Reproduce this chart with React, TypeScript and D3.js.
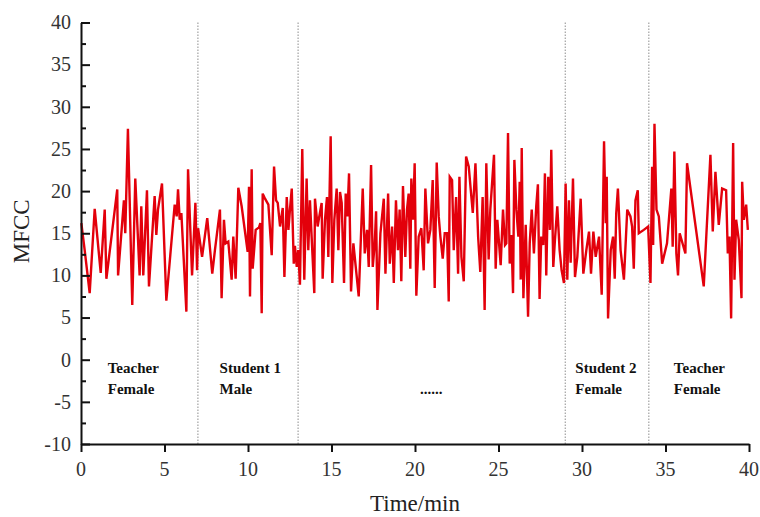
import React, { useEffect, useRef } from 'react';
import * as d3 from 'd3';

// [minute, MFCC] pairs, one array per speaker segment
const teacherA: [number, number][] = [
  [0.02, 16.2], [0.12, 14.6], [0.22, 13.0], [0.52, 7.9], [0.82, 17.9], [1.18, 10.3], [1.42, 17.8],
  [1.52, 9.6], [2.17, 20.2], [2.22, 10.0], [2.57, 18.9], [2.65, 15.0], [2.81, 27.4], [3.07, 6.5],
  [3.25, 21.5], [3.51, 10.0], [3.61, 18.2], [3.73, 10.0], [3.95, 20.1], [4.07, 8.7], [4.41, 19.4],
  [4.51, 14.8], [4.61, 17.8], [4.85, 20.9], [5.11, 7.0], [5.61, 18.4], [5.73, 17.0], [5.81, 20.2],
  [5.91, 16.6], [6.01, 17.4], [6.31, 5.7], [6.41, 22.6], [6.65, 10.0], [6.85, 18.6], [6.95, 10.6]
];
const student1: [number, number][] = [
  [7.01, 15.6], [7.25, 12.2], [7.56, 16.8], [7.86, 10.2], [8.02, 13.0], [8.32, 17.8], [8.42, 7.3],
  [8.56, 16.6], [8.66, 13.8], [8.82, 14.0], [9.02, 9.5], [9.12, 14.6], [9.26, 9.6], [9.42, 20.4],
  [9.62, 18.2], [9.98, 12.8], [10.06, 20.5], [10.12, 7.5], [10.22, 22.6], [10.28, 10.8], [10.46, 15.4],
  [10.66, 15.7], [10.74, 16.2], [10.82, 5.5], [10.88, 19.7], [11.02, 19.1], [11.22, 18.4], [11.42, 12.4],
  [11.56, 22.9], [11.68, 18.9], [11.78, 18.6], [11.92, 15.8], [12.08, 18.0], [12.18, 9.8], [12.32, 19.3],
  [12.42, 15.4], [12.52, 18.0], [12.62, 20.3], [12.74, 11.4], [12.81, 13.5], [12.92, 11.0]
];
const others: [number, number][] = [
  [13.01, 13.0], [13.11, 8.9], [13.25, 25.0], [13.37, 9.5], [13.51, 21.5], [13.61, 13.0], [13.71, 18.9],
  [13.81, 14.6], [13.97, 7.9], [14.01, 19.1], [14.17, 15.8], [14.27, 17.0], [14.41, 18.6], [14.47, 9.6],
  [14.61, 16.6], [14.73, 19.3], [14.81, 12.2], [14.95, 26.5], [15.05, 9.1], [15.17, 16.6], [15.31, 20.3],
  [15.41, 13.0], [15.51, 19.9], [15.61, 18.6], [15.75, 9.1], [15.85, 19.7], [15.95, 17.0], [16.05, 22.1],
  [16.17, 8.1], [16.31, 13.8], [16.63, 7.5], [16.87, 20.3], [16.99, 12.6], [17.13, 15.4], [17.23, 11.0],
  [17.37, 23.1], [17.47, 11.0], [17.59, 13.8], [17.67, 17.6], [17.75, 5.9], [17.93, 15.0], [18.13, 19.1],
  [18.23, 10.2], [18.39, 19.7], [18.49, 11.4], [18.63, 15.8], [18.73, 9.1], [18.86, 18.9], [18.98, 13.0],
  [19.08, 17.8], [19.18, 9.3], [19.28, 20.6], [19.42, 12.2], [19.52, 17.8], [19.62, 19.7], [19.72, 10.8],
  [19.78, 21.5], [19.88, 16.6], [19.98, 23.3], [20.08, 7.6], [20.22, 14.6], [20.38, 15.6], [20.52, 10.6],
  [20.62, 20.3], [20.78, 13.8], [20.92, 15.4], [21.06, 21.3], [21.18, 8.5], [21.3, 23.4], [21.42, 17.0],
  [21.52, 14.6], [21.66, 12.0], [21.78, 15.0], [21.92, 15.0], [22.02, 6.9], [22.08, 21.7], [22.22, 21.3],
  [22.32, 13.0], [22.46, 19.3], [22.58, 10.2], [22.66, 21.7], [22.78, 12.2], [22.92, 9.3], [23.06, 24.1],
  [23.22, 22.9], [23.34, 20.1], [23.46, 17.4], [23.62, 23.3], [23.78, 14.6], [23.91, 10.4], [24.05, 19.3],
  [24.17, 5.9], [24.27, 23.3], [24.41, 11.9], [24.51, 17.8], [24.73, 24.3], [24.83, 10.8], [24.93, 16.6],
  [25.13, 11.2], [25.27, 17.8], [25.39, 13.6], [25.47, 13.8], [25.57, 26.9], [25.67, 11.4], [25.77, 14.8],
  [25.87, 7.9], [25.95, 23.7], [26.07, 17.8], [26.19, 14.6], [26.27, 21.1], [26.33, 9.5], [26.39, 25.1],
  [26.49, 7.3], [26.63, 16.0], [26.77, 5.1], [26.87, 13.8], [26.99, 17.8], [27.12, 12.6], [27.26, 18.2],
  [27.36, 20.8], [27.46, 7.2], [27.56, 14.6], [27.68, 13.6], [27.78, 22.1], [27.86, 10.0], [27.98, 21.7],
  [28.08, 15.4], [28.16, 24.9], [28.28, 11.0], [28.38, 14.2], [28.52, 18.2], [28.66, 13.0], [28.78, 10.6],
  [28.92, 9.1]
];
const student2: [number, number][] = [
  [29.02, 20.9], [29.12, 9.5], [29.22, 18.9], [29.32, 11.5], [29.46, 21.5], [29.58, 9.8], [29.72, 12.2],
  [29.92, 19.1], [30.08, 10.2], [30.26, 13.0], [30.42, 15.2], [30.54, 10.2], [30.68, 15.2], [30.82, 12.2],
  [31.02, 14.6], [31.18, 7.7], [31.32, 25.9], [31.42, 16.2], [31.48, 21.7], [31.56, 4.9], [31.72, 13.0],
  [31.86, 14.6], [31.96, 9.6], [32.05, 17.4], [32.15, 20.3], [32.31, 13.0], [32.51, 9.5], [32.71, 17.8],
  [32.9, 17.0], [33.0, 15.8], [33.1, 10.8], [33.2, 18.9], [33.34, 20.1], [33.4, 15.0], [33.7, 15.4],
  [33.96, 15.8]
];
const teacherB: [number, number][] = [
  [34.1, 9.1], [34.2, 22.9], [34.26, 13.6], [34.34, 28.0], [34.46, 17.8], [34.6, 17.0], [34.8, 11.4],
  [35.09, 13.8], [35.35, 20.3], [35.43, 13.4], [35.53, 24.7], [35.65, 12.6], [35.75, 10.0], [35.85, 15.0],
  [36.19, 12.6], [36.29, 23.3], [37.29, 8.7], [37.69, 24.3], [37.83, 15.2], [37.99, 22.3], [38.19, 16.0],
  [38.39, 20.3], [38.63, 20.1], [38.73, 12.6], [38.83, 14.6], [38.93, 4.9], [39.05, 25.7], [39.13, 9.5],
  [39.23, 16.6], [39.39, 14.2], [39.55, 7.3], [39.59, 21.1], [39.69, 16.6], [39.83, 18.4], [39.93, 15.4]
];

const dividers = [7, 13, 29, 34];
const speakerLabels = [
  { at: 1.6, lines: ['Teacher', 'Female'] },
  { at: 8.3, lines: ['Student 1', 'Male'] },
  { at: 20.3, lines: ['', '......'] },
  { at: 29.6, lines: ['Student 2', 'Female'] },
  { at: 35.5, lines: ['Teacher', 'Female'] }
];
const xTicks = [0, 5, 10, 15, 20, 25, 30, 35, 40];
const yTicks = [-10, -5, 0, 5, 10, 15, 20, 25, 30, 35, 40];

const W = 760;
const H = 517;
const serif = 'Liberation Serif';

export default function App() {
  const ref = useRef<SVGSVGElement>(null);

  useEffect(() => {
    const svg = d3.select(ref.current);
    svg.selectAll('*').remove();

    const x = d3.scaleLinear().domain([0, 40]).range([81, 749]);
    const y = d3.scaleLinear().domain([-10, 40]).range([444, 22.5]);

    // speaker change markers
    svg.append('g')
      .selectAll('line')
      .data(dividers)
      .enter()
      .append('line')
      .attr('x1', d => x(d)).attr('x2', d => x(d))
      .attr('y1', y(40)).attr('y2', y(-10))
      .attr('stroke', '#a8a8a8')
      .attr('stroke-width', 1.3)
      .attr('stroke-dasharray', '1.5,1.5');

    const data = [...teacherA, ...student1, ...others, ...student2, ...teacherB];
    const line = d3.line<[number, number]>().x(d => x(d[0])).y(d => y(d[1]));
    svg.append('path')
      .attr('d', line(data))
      .attr('fill', 'none')
      .attr('stroke', '#e3000b')
      .attr('stroke-width', 2.4)
      .attr('stroke-linejoin', 'miter');

    // axes: ticks from d3, labels written separately so the serif face sticks
    svg.append('g')
      .attr('transform', `translate(${x(0)},0)`)
      .call(d3.axisLeft(y).tickValues(yTicks).tickFormat(() => '').tickSizeInner(-9).tickSizeOuter(0));
    svg.append('g')
      .attr('transform', `translate(${x(0)},0)`)
      .call(d3.axisLeft(y).tickValues(yTicks.slice(1).map(v => v - 2.5)).tickSize(-5).tickFormat(() => ''))
      .call(g => g.select('.domain').remove());
    svg.append('g')
      .attr('transform', `translate(0,${y(-10)})`)
      .call(d3.axisBottom(x).tickValues(xTicks).tickFormat(() => '').tickSizeInner(8).tickSizeOuter(0));

    svg.selectAll('.domain').attr('stroke', '#111').attr('stroke-width', 2);
    svg.selectAll('.tick line').attr('stroke', '#111').attr('stroke-width', 2);

    svg.append('g')
      .selectAll('text')
      .data(yTicks)
      .enter()
      .append('text')
      .attr('x', x(0) - 10)
      .attr('y', d => y(d))
      .attr('dy', '0.34em')
      .attr('text-anchor', 'end')
      .attr('font-family', serif)
      .attr('font-size', 20)
      .attr('fill', '#333')
      .text(d => String(d));

    svg.append('g')
      .selectAll('text')
      .data(xTicks)
      .enter()
      .append('text')
      .attr('x', d => x(d))
      .attr('y', 476)
      .attr('text-anchor', 'middle')
      .attr('font-family', serif)
      .attr('font-size', 20)
      .attr('fill', '#333')
      .text(d => String(d));

    // speaker annotations
    const ann = svg.append('g')
      .attr('font-family', serif)
      .attr('font-weight', 'bold')
      .attr('font-size', 15)
      .attr('fill', '#111');
    speakerLabels.forEach(s => {
      s.lines.forEach((txt, i) => {
        ann.append('text')
          .attr('x', x(s.at))
          .attr('y', y(-1.6) + i * 21)
          .text(txt);
      });
    });

    svg.append('text')
      .attr('transform', `translate(29,${(y(40) + y(-10)) / 2 - 2}) rotate(-90)`)
      .attr('text-anchor', 'middle')
      .attr('font-family', serif)
      .attr('font-size', 23)
      .attr('fill', '#222')
      .text('MFCC');

    svg.append('text')
      .attr('x', (x(0) + x(40)) / 2)
      .attr('y', 511)
      .attr('text-anchor', 'middle')
      .attr('font-family', serif)
      .attr('font-size', 23)
      .attr('fill', '#222')
      .text('Time/min');
  }, []);

  return (
    <svg
      ref={ref}
      width={W}
      height={H}
      style={{ position: 'absolute', left: 0, top: 0, background: '#fff' }}
    />
  );
}
